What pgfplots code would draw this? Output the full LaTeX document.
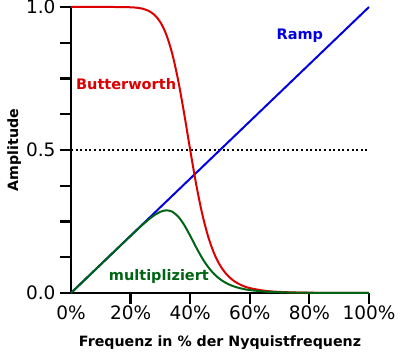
\documentclass[border=0pt]{standalone}
\usepackage{pgfplots}
\pgfplotsset{compat=1.18}
\usepackage{fontspec}
\setmainfont{DejaVu Sans}
\definecolor{bwred}{RGB}{220,0,0}
\definecolor{rampblue}{RGB}{0,0,225}
\definecolor{mulgreen}{RGB}{0,100,20}
\begin{document}
\begin{tikzpicture}
\begin{axis}[
  name=ax,
  scale only axis,
  width=298pt, height=286pt,
  xmin=0, xmax=100, ymin=0, ymax=1,
  axis x line=bottom, axis y line=left,
  axis line style={-, line width=2.5pt},
  every tick/.style={black, line width=2.2pt},
  tick align=outside,
  major tick length=11pt, minor tick length=11pt,
  ytick={0,0.5,1},
  minor ytick={0.125,0.25,0.375,0.625,0.75,0.875},
  yticklabels={0.0,0.5,1.0},
  yticklabel style={xshift=-1pt},
  xtick={20,40,60,80,100},
  xticklabels={20\%,40\%,60\%,80\%,100\%},
  extra x ticks={0},
  extra x tick labels={0\%},
  extra x tick style={major tick length=0pt, xticklabel style={yshift=-11pt}},
  /pgf/number format/assume math mode=true,
  ticklabel style={font=\fontsize{18.5}{21}\selectfont},
  xticklabel style={yshift=2pt},
  xlabel={\textbf{Frequenz in \% der Nyquistfrequenz}},
  ylabel={\textbf{Amplitude}},
  label style={font=\fontsize{14.2}{16}\selectfont},
  xlabel style={yshift=2pt},
  ylabel style={yshift=-2pt},
  clip=false,
]
\addplot[black, line width=2pt, dash pattern=on 2pt off 2.6pt] coordinates {(0,0.5) (100,0.5)};
\addplot[rampblue, line width=2pt] coordinates {(0,0) (100,1)};
\addplot[bwred, line width=2pt, smooth] coordinates {
(0,1) (5,1) (10,1) (15,0.99995) (20,0.99902) (22,0.99747) (24,0.99399) (26,0.98672)
(28,0.97253) (30,0.94669) (32,0.90304) (34,0.83551) (36,0.74147) (38,0.62549)
(40,0.5) (42,0.38039) (44,0.27826) (46,0.19820) (48,0.13905) (50,0.09696)
(52,0.06763) (54,0.04738) (56,0.03342) (58,0.02376) (60,0.01705) (65,0.00773)
(70,0.00370) (75,0.00186) (80,0.000975) (90,0.0003) (100,0.000105)};
\addplot[mulgreen, line width=2pt, smooth] coordinates {
(0,0) (5,0.05) (10,0.1) (15,0.14999) (20,0.1998) (22,0.21944) (24,0.23856)
(26,0.25655) (28,0.27231) (30,0.28401) (31,0.28752) (32,0.28897) (33,0.28794)
(34,0.28407) (36,0.26693) (38,0.23769) (40,0.2) (42,0.15976) (44,0.12243)
(46,0.09117) (48,0.06674) (50,0.04848) (52,0.03517) (54,0.02559) (56,0.01872)
(58,0.01378) (60,0.01023) (65,0.00502) (70,0.00259) (75,0.00140) (80,0.00078)
(90,0.00027) (100,0.000105)};
\node[bwred, font=\bfseries\fontsize{14.5}{16}\selectfont] at (axis cs:18.5,0.731) {Butterworth};
\node[rampblue, font=\bfseries\fontsize{14.5}{16}\selectfont] at (axis cs:76.8,0.899) {Ramp};
\node[mulgreen, font=\bfseries\fontsize{14.5}{16}\selectfont] at (axis cs:29.5,0.059) {multipliziert};
\end{axis}
\pgfresetboundingbox
\path ([shift={(-71pt,-59pt)}]ax.south west) rectangle ([shift={(31pt,7pt)}]ax.north east);
\end{tikzpicture}
\end{document}
